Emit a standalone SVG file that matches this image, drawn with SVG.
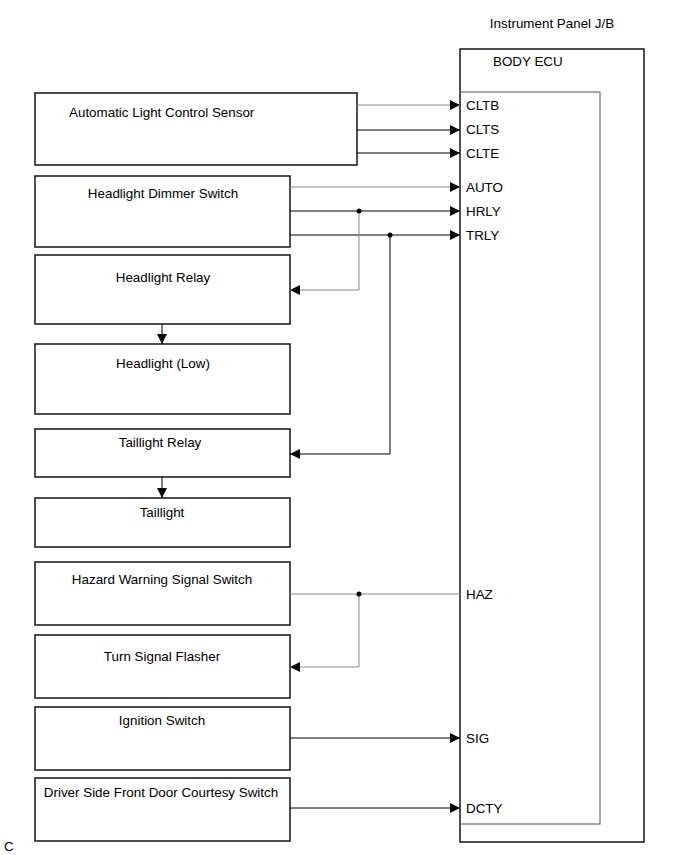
<svg xmlns="http://www.w3.org/2000/svg" width="691" height="855" viewBox="0 0 691 855">
<style>
text{font-family:"Liberation Sans",Arial,sans-serif;font-size:13.4px;fill:#000}
.box{fill:#fff;stroke:#222;stroke-width:1.6}
.ln{fill:none;stroke:#000;stroke-width:1}
.lg{fill:none;stroke:#888;stroke-width:1}
.m{text-anchor:middle}
</style>
<defs>
<marker id="ar" viewBox="0 0 10 10" refX="10" refY="5" markerWidth="10" markerHeight="10" markerUnits="userSpaceOnUse" orient="auto">
<path d="M0,0 L10,5 L0,10 Z" fill="#000"/>
</marker>
</defs>
<rect width="691" height="855" fill="#fff"/>
<g id="ecu">
<text x="552" y="28" class="m">Instrument Panel J/B</text>
<rect x="460" y="49" width="184" height="793" class="box"/>
<rect x="460" y="92" width="140" height="732" fill="none" stroke="#555" stroke-width="1"/>
<text x="493" y="66">BODY ECU</text>
<text x="466" y="110">CLTB</text>
<text x="466" y="134">CLTS</text>
<text x="466" y="158">CLTE</text>
<text x="466" y="192">AUTO</text>
<text x="466" y="216">HRLY</text>
<text x="466" y="240">TRLY</text>
<text x="466" y="599">HAZ</text>
<text x="466" y="743">SIG</text>
<text x="466" y="813">DCTY</text>
</g>
<g id="n1"><rect x="35" y="93" width="322" height="72" class="box"/><text x="69" y="117">Automatic Light Control Sensor</text></g>
<g id="n2"><rect x="35" y="176" width="255" height="71" class="box"/><text x="163" y="198" class="m">Headlight Dimmer Switch</text></g>
<g id="n3"><rect x="35" y="255" width="255" height="69" class="box"/><text x="163" y="282" class="m">Headlight Relay</text></g>
<g id="n4"><rect x="35" y="344" width="255" height="70" class="box"/><text x="163" y="368" class="m">Headlight (Low)</text></g>
<g id="n5"><rect x="35" y="429" width="255" height="48" class="box"/><text x="160" y="447" class="m">Taillight Relay</text></g>
<g id="n6"><rect x="35" y="498" width="255" height="49" class="box"/><text x="162" y="517" class="m">Taillight</text></g>
<g id="n7"><rect x="35" y="562" width="255" height="63" class="box"/><text x="162" y="584" class="m">Hazard Warning Signal Switch</text></g>
<g id="n8"><rect x="35" y="635" width="255" height="63" class="box"/><text x="162" y="661" class="m">Turn Signal Flasher</text></g>
<g id="n9"><rect x="35" y="707" width="255" height="63" class="box"/><text x="162" y="725" class="m">Ignition Switch</text></g>
<g id="n10"><rect x="35" y="778" width="255" height="63" class="box"/><text x="161" y="797" class="m">Driver Side Front Door Courtesy Switch</text></g>
<g id="connectors">
<line x1="357" y1="105" x2="460" y2="105" class="lg" marker-end="url(#ar)"/>
<line x1="357" y1="130" x2="460" y2="130" class="ln" marker-end="url(#ar)"/>
<line x1="357" y1="153" x2="460" y2="153" class="ln" marker-end="url(#ar)"/>
<line x1="290" y1="187" x2="460" y2="187" class="lg" marker-end="url(#ar)"/>
<line x1="290" y1="211" x2="460" y2="211" class="ln" marker-end="url(#ar)"/>
<line x1="290" y1="235" x2="460" y2="235" class="ln" marker-end="url(#ar)"/>
<polyline points="359,211 359,290 290,290" class="lg" marker-end="url(#ar)"/>
<polyline points="390,235 390,454 290,454" class="ln" marker-end="url(#ar)"/>
<circle cx="359" cy="211" r="2.5" fill="#000"/>
<circle cx="390" cy="235" r="2.5" fill="#000"/>
<line x1="162" y1="324" x2="162" y2="344" class="ln" marker-end="url(#ar)"/>
<line x1="162" y1="477" x2="162" y2="498" class="ln" marker-end="url(#ar)"/>
<line x1="290" y1="594" x2="460" y2="594" class="lg"/>
<polyline points="359,594 359,667 290,667" class="lg" marker-end="url(#ar)"/>
<circle cx="359" cy="594" r="2.5" fill="#000"/>
<line x1="290" y1="738" x2="460" y2="738" class="ln" marker-end="url(#ar)"/>
<line x1="290" y1="808" x2="460" y2="808" class="ln" marker-end="url(#ar)"/>
</g>
<text x="4" y="851">C</text>
</svg>
